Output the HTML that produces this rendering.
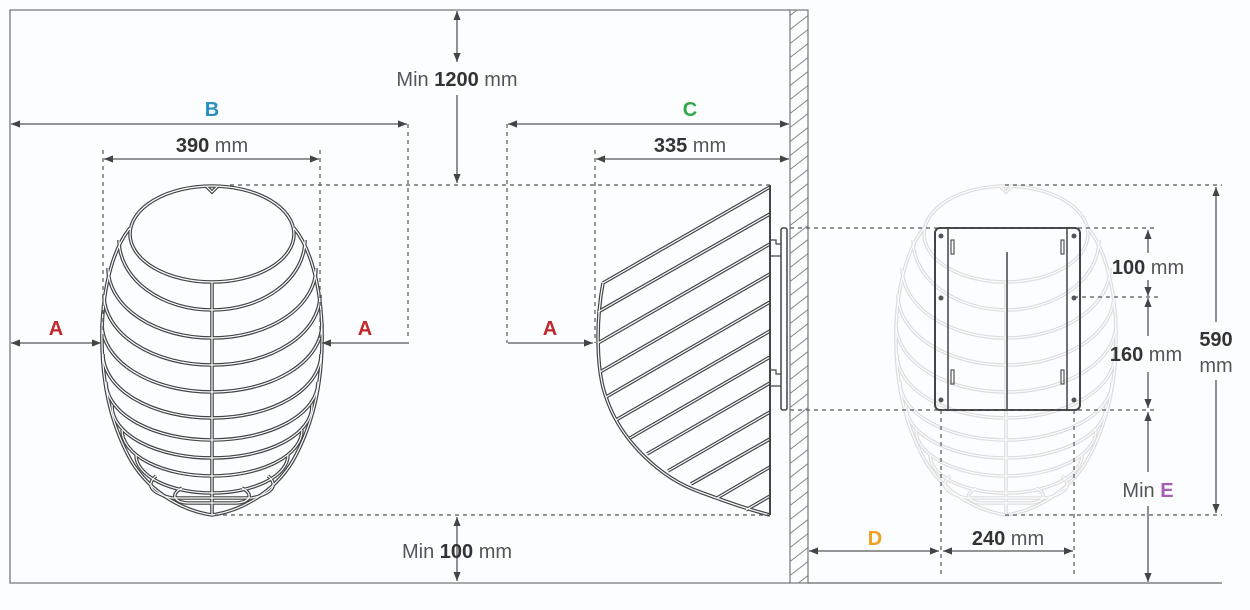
<!DOCTYPE html>
<html><head><meta charset="utf-8"><style>
html,body{margin:0;padding:0;background:#fcfdfe;}
svg{display:block;font-family:"Liberation Sans",sans-serif;}
.t{font-size:20px;fill:#333;}
.b{font-weight:bold;}
.m{fill:#555;font-weight:normal;}
</style></head><body>
<svg width="1250" height="610" viewBox="0 0 1250 610" xmlns="http://www.w3.org/2000/svg">
<defs>
<marker id="ar" viewBox="0 0 10 10" refX="10" refY="5" markerWidth="7" markerHeight="7" orient="auto-start-reverse"><path d="M0,1 L10,5 L0,9 z" fill="#444"/></marker>
<pattern id="hatch" width="18" height="14" patternUnits="userSpaceOnUse"><path d="M0,14 L18,0 M-9,7 L9,-7 M9,21 L27,7" stroke="#888" stroke-width="1"/></pattern>
<g id="front" fill="none">
<ellipse cx="212" cy="234" rx="82" ry="48"/>
<path d="M119,240 A93 70 0 0 0 305,240"/>
<path d="M108,268 A104 70 0 0 0 316,268"/>
<path d="M104,295 A108 70 0 0 0 320,295"/>
<path d="M102,324 A110 68 0 0 0 322,324"/>
<path d="M103,354 A109 64 0 0 0 321,354"/>
<path d="M106,382 A106 58 0 0 0 318,382"/>
<path d="M112,406 A100 52 0 0 0 312,406"/>
<path d="M122,430 A90 46 0 0 0 302,430"/>
<path d="M136,455 A76 38 0 0 0 288,455"/>
<path d="M156,476 C144,486 154,494 172,498 L252,498 C270,494 280,486 268,476"/>
<path d="M182,488 C170,494 174,502 187,503 L237,503 C250,502 254,494 242,488"/>
<path d="M130,228 C112,250 103,290 102,330 C101,380 110,420 128,455 C145,488 178,510 212,515 C246,510 279,488 296,455 C314,420 323,380 322,330 C321,290 312,250 294,228"/>
<line x1="212" y1="282" x2="212" y2="515"/>
<path d="M206,186 L212,192 L218,186"/>
</g>
<g id="side" fill="none">
<path d="M603,283 C596,320 596,370 606,397 C620,440 660,478 700,492 C730,503 750,510 770,515"/>
<line x1="603" y1="283" x2="770" y2="187"/>
<line x1="598" y1="312" x2="770" y2="214"/>
<line x1="598" y1="343" x2="770" y2="244"/>
<line x1="600" y1="372" x2="770" y2="274"/>
<line x1="606" y1="397" x2="770" y2="302"/>
<line x1="616" y1="420" x2="770" y2="331"/>
<line x1="630" y1="438" x2="770" y2="357"/>
<line x1="647" y1="454" x2="770" y2="383"/>
<line x1="668" y1="471" x2="770" y2="412"/>
<line x1="691" y1="484" x2="770" y2="439"/>
<line x1="717" y1="498" x2="770" y2="467"/>
<line x1="746" y1="510" x2="770" y2="496"/>
</g>
</defs>

<rect x="790" y="10" width="18" height="573" fill="url(#hatch)" stroke="#777" stroke-width="1.2"/>
<path d="M790,10 H10 V583 H790" fill="none" stroke="#777" stroke-width="1.3"/>
<line x1="808" y1="583" x2="1222" y2="583" stroke="#666" stroke-width="1.3"/>

<use href="#front" stroke="#444" stroke-width="3.6"/>
<use href="#front" stroke="#fcfdfe" stroke-width="1.2"/>

<use href="#side" stroke="#444" stroke-width="3.6"/>
<use href="#side" stroke="#fcfdfe" stroke-width="1.2"/>
<line x1="770" y1="185" x2="770" y2="515" stroke="#444" stroke-width="2"/>
<rect x="781" y="228" width="6" height="182" rx="2" fill="#fcfdfe" stroke="#444" stroke-width="1.5"/>
<path d="M770,240 H776 V244 H781 M770,256 H781 M770,370 H776 V374 H781 M770,386 H781" fill="none" stroke="#444" stroke-width="1.2"/>

<g transform="translate(794,0)"><use href="#front" stroke="#ddd" stroke-width="3.6"/><use href="#front" stroke="#fcfdfe" stroke-width="1.2"/></g>
<rect x="935" y="228" width="145" height="182" rx="5" fill="none" stroke="#444" stroke-width="2"/>
<line x1="948" y1="228" x2="948" y2="410" stroke="#444" stroke-width="1.5"/>
<line x1="1067" y1="228" x2="1067" y2="410" stroke="#444" stroke-width="1.5"/>
<line x1="1007" y1="252" x2="1007" y2="410" stroke="#444" stroke-width="1.5"/>
<g fill="none" stroke="#555" stroke-width="1.2">
<rect x="951" y="240" width="3" height="14"/><rect x="1061" y="240" width="3" height="14"/>
<rect x="951" y="370" width="3" height="14"/><rect x="1061" y="370" width="3" height="14"/>
</g>
<g fill="#555"><circle cx="941" cy="236" r="2.5"/><circle cx="1074" cy="236" r="2.5"/><circle cx="941" cy="298" r="2.5"/><circle cx="1074" cy="298" r="2.5"/><circle cx="941" cy="400" r="2.5"/><circle cx="1074" cy="400" r="2.5"/></g>

<g stroke="#555" stroke-width="1.2" stroke-dasharray="4,4" fill="none">
<line x1="230" y1="185" x2="770" y2="185"/>
<line x1="215" y1="515" x2="770" y2="515"/>
<line x1="103" y1="150" x2="103" y2="340"/>
<line x1="320" y1="150" x2="320" y2="340"/>
<line x1="408" y1="124" x2="408" y2="340"/>
<line x1="507" y1="124" x2="507" y2="343"/>
<line x1="595" y1="150" x2="595" y2="343"/>
<line x1="790" y1="228" x2="1155" y2="228"/>
<line x1="790" y1="410" x2="1155" y2="410"/>
<line x1="1074" y1="297" x2="1160" y2="297"/>
<line x1="1005" y1="185" x2="1222" y2="185"/>
<line x1="1005" y1="515" x2="1222" y2="515"/>
<line x1="941" y1="410" x2="941" y2="575"/>
<line x1="1074" y1="410" x2="1074" y2="575"/>
</g>

<g stroke="#555" stroke-width="1.3" fill="none" marker-end="url(#ar)" marker-start="url(#ar)">
<line x1="457" y1="11" x2="457" y2="62"/>
<line x1="11" y1="124" x2="407" y2="124"/>
<line x1="104" y1="159" x2="319" y2="159"/>
<line x1="11" y1="343" x2="101" y2="343"/>
<line x1="508" y1="124" x2="789" y2="124"/>
<line x1="596" y1="159" x2="789" y2="159"/>
<line x1="457" y1="517" x2="457" y2="581"/>
<line x1="809" y1="551" x2="939" y2="551"/>
<line x1="943" y1="551" x2="1073" y2="551"/>
</g>
<g stroke="#555" stroke-width="1.3" fill="none">
<line x1="457" y1="95" x2="457" y2="183" marker-end="url(#ar)"/>
<line x1="409" y1="343" x2="322" y2="343" marker-end="url(#ar)"/>
<line x1="508" y1="343" x2="593" y2="343" marker-end="url(#ar)"/>
<line x1="1148" y1="253" x2="1148" y2="230" marker-end="url(#ar)"/>
<line x1="1148" y1="280" x2="1148" y2="296" marker-end="url(#ar)"/>
<line x1="1148" y1="336" x2="1148" y2="298" marker-end="url(#ar)"/>
<line x1="1148" y1="372" x2="1148" y2="408" marker-end="url(#ar)"/>
<line x1="1148" y1="472" x2="1148" y2="412" marker-end="url(#ar)"/>
<line x1="1148" y1="506" x2="1148" y2="582" marker-end="url(#ar)"/>
<line x1="1216" y1="322" x2="1216" y2="187" marker-end="url(#ar)"/>
<line x1="1216" y1="380" x2="1216" y2="513" marker-end="url(#ar)"/>
</g>

<text x="457" y="86" text-anchor="middle" class="t"><tspan class="m">Min </tspan><tspan class="b">1200</tspan><tspan class="m"> mm</tspan></text>
<text x="212" y="116" text-anchor="middle" class="t b" style="fill:#2a8fc0">B</text>
<text x="212" y="152" text-anchor="middle" class="t"><tspan class="b">390</tspan><tspan class="m"> mm</tspan></text>
<text x="690" y="116" text-anchor="middle" class="t b" style="fill:#2fa84a">C</text>
<text x="690" y="152" text-anchor="middle" class="t"><tspan class="b">335</tspan><tspan class="m"> mm</tspan></text>
<text x="56" y="335" text-anchor="middle" class="t b" style="fill:#c0282d">A</text>
<text x="365" y="335" text-anchor="middle" class="t b" style="fill:#c0282d">A</text>
<text x="550" y="335" text-anchor="middle" class="t b" style="fill:#c0282d">A</text>
<text x="457" y="558" text-anchor="middle" class="t"><tspan class="m">Min </tspan><tspan class="b">100</tspan><tspan class="m"> mm</tspan></text>
<text x="1148" y="274" text-anchor="middle" class="t"><tspan class="b">100</tspan><tspan class="m"> mm</tspan></text>
<text x="1146" y="361" text-anchor="middle" class="t"><tspan class="b">160</tspan><tspan class="m"> mm</tspan></text>
<text x="1216" y="346" text-anchor="middle" class="t b">590</text>
<text x="1216" y="372" text-anchor="middle" class="t m">mm</text>
<text x="1148" y="497" text-anchor="middle" class="t"><tspan class="m">Min </tspan><tspan class="b" style="fill:#a65fb5">E</tspan></text>
<text x="875" y="545" text-anchor="middle" class="t b" style="fill:#f0a020">D</text>
<text x="1008" y="545" text-anchor="middle" class="t"><tspan class="b">240</tspan><tspan class="m"> mm</tspan></text>
</svg>
</body></html>
